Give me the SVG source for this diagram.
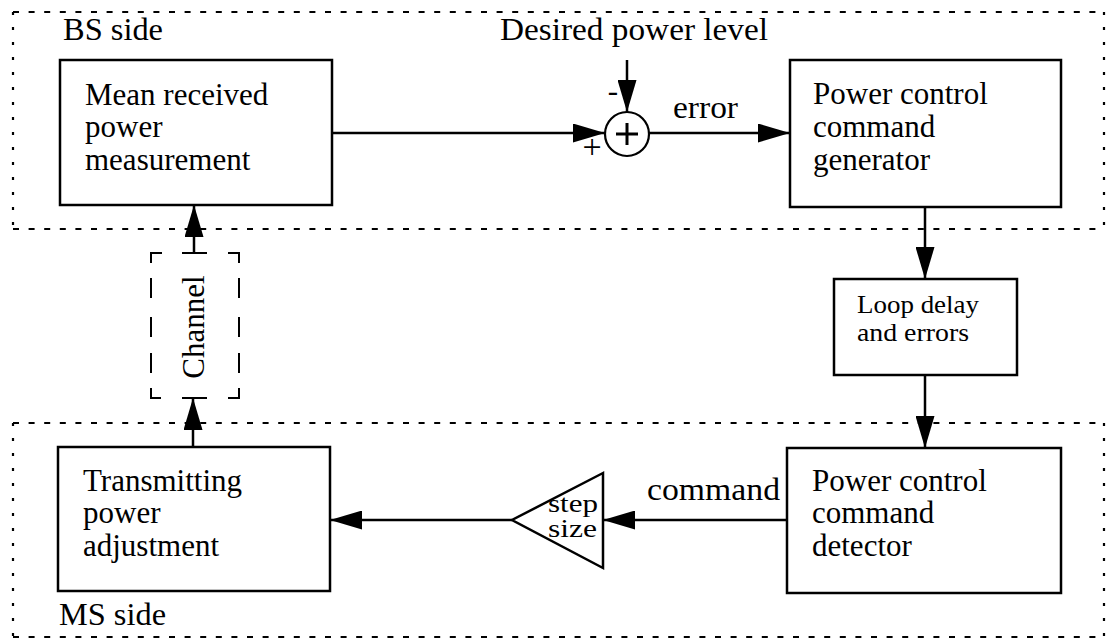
<svg xmlns="http://www.w3.org/2000/svg" width="1107" height="641" viewBox="0 0 1107 641">
<defs>
<style>
.t{font-family:"Liberation Serif","Times New Roman",serif;font-size:31px;fill:#000}
.s{font-family:"Liberation Serif","Times New Roman",serif;font-size:25px;fill:#000}
.box{fill:none;stroke:#000;stroke-width:2.5}
.ln{fill:none;stroke:#000;stroke-width:2.5}
.dh{fill:none;stroke:#000;stroke-width:2.2;stroke-dasharray:6 9.6}
.dv{fill:none;stroke:#000;stroke-width:2.2;stroke-dasharray:3 12}
.ch{fill:none;stroke:#000;stroke-width:2}
</style>
<marker id="ah" markerUnits="userSpaceOnUse" viewBox="0 0 32 19" refX="32" refY="9.5" markerWidth="32" markerHeight="19" orient="auto">
<path d="M0,0 L32,9.5 L0,19 z" fill="#000"/>
</marker>
</defs>
<rect width="1107" height="641" fill="#fff"/>

<g id="bs-region">
<line class="dh" x1="13" y1="12" x2="1104" y2="12"/>
<line class="dh" x1="13" y1="229" x2="1104" y2="229"/>
<line class="dv" x1="13" y1="12" x2="13" y2="229"/>
<line class="dv" x1="1104" y1="12" x2="1104" y2="229"/>
<text class="t" x="63" y="40" textLength="100" lengthAdjust="spacingAndGlyphs">BS side</text>
</g>

<g id="ms-region">
<line class="dh" x1="13" y1="423" x2="1104" y2="423"/>
<line class="dh" x1="13" y1="637" x2="1104" y2="637"/>
<line class="dv" x1="13" y1="423" x2="13" y2="637"/>
<line class="dv" x1="1104" y1="423" x2="1104" y2="637"/>
<text class="t" x="59" y="625" textLength="107" lengthAdjust="spacingAndGlyphs">MS side</text>
</g>

<g id="desired-label">
<text class="t" x="500" y="40" textLength="268" lengthAdjust="spacingAndGlyphs">Desired power level</text>
</g>

<g id="mean-received">
<rect class="box" x="60" y="60" width="272" height="145"/>
<text class="t" x="85" y="105">Mean received<tspan x="85" y="137">power</tspan><tspan x="85" y="170">measurement</tspan></text>
</g>

<g id="summer">
<circle cx="627" cy="134" r="22" fill="none" stroke="#000" stroke-width="2.2"/>
<line x1="616" y1="134" x2="638" y2="134" stroke="#000" stroke-width="3"/>
<line x1="627" y1="123" x2="627" y2="145" stroke="#000" stroke-width="3"/>
<text class="t" x="613" y="101" text-anchor="middle">-</text>
<text x="592" y="158" text-anchor="middle" style="font-family:'Liberation Serif',serif;font-size:34px">+</text>
</g>

<g id="pc-generator">
<rect class="box" x="790" y="60" width="271" height="147"/>
<text class="t" x="813" y="104">Power control<tspan x="813" y="137">command</tspan><tspan x="813" y="170">generator</tspan></text>
</g>

<g id="loop-delay">
<rect class="box" x="834" y="279" width="183" height="96"/>
<text class="s" x="857" y="313" textLength="122" lengthAdjust="spacingAndGlyphs">Loop delay</text>
<text class="s" x="857" y="341" textLength="112" lengthAdjust="spacingAndGlyphs">and errors</text>
</g>

<g id="channel">
<path class="ch" d="M162,253 H151 V263 M151,278 V298 M151,317 V337 M151,353 V373 M151,388 V398 H161"/>
<path class="ch" d="M228,253 H239 V263 M239,278 V298 M239,317 V337 M239,353 V373 M239,388 V398 H228"/>
<path class="ch" d="M182,253 H207 M182,398 H207"/>
<text class="t" transform="translate(204,327) rotate(-90)" text-anchor="middle">Channel</text>
</g>

<g id="pc-detector">
<rect class="box" x="787" y="448" width="274" height="145"/>
<text class="t" x="812" y="491">Power control<tspan x="812" y="523">command</tspan><tspan x="812" y="556">detector</tspan></text>
</g>

<g id="step-size">
<path class="ln" d="M603,473 L512,520 L603,568 Z" stroke-width="2.2"/>
<text x="548" y="512" textLength="50" lengthAdjust="spacingAndGlyphs" style="font-family:'Liberation Serif',serif;font-size:25px">step</text>
<text x="548" y="537" textLength="49" lengthAdjust="spacingAndGlyphs" style="font-family:'Liberation Serif',serif;font-size:25px">size</text>
</g>

<g id="tx-adjust">
<rect class="box" x="58" y="447" width="272" height="144"/>
<text class="t" x="83" y="491">Transmitting<tspan x="83" y="523">power</tspan><tspan x="83" y="556">adjustment</tspan></text>
</g>

<g id="connectors">
<line class="ln" x1="332" y1="133" x2="605" y2="133" marker-end="url(#ah)"/>
<line class="ln" x1="627" y1="60" x2="627" y2="112" marker-end="url(#ah)"/>
<line class="ln" x1="649" y1="133" x2="790" y2="133" marker-end="url(#ah)"/>
<text class="t" x="673" y="118" textLength="65" lengthAdjust="spacingAndGlyphs">error</text>
<line class="ln" x1="925" y1="207" x2="925" y2="279" marker-end="url(#ah)"/>
<line class="ln" x1="925" y1="375" x2="925" y2="448" marker-end="url(#ah)"/>
<line class="ln" x1="787" y1="520" x2="603" y2="520" marker-end="url(#ah)"/>
<text x="647" y="500" textLength="133" lengthAdjust="spacingAndGlyphs" style="font-family:'Liberation Serif',serif;font-size:32px">command</text>
<line class="ln" x1="512" y1="520" x2="330" y2="520" marker-end="url(#ah)"/>
<line class="ln" x1="193" y1="447" x2="193" y2="398" marker-end="url(#ah)"/>
<line class="ln" x1="194" y1="253" x2="194" y2="205" marker-end="url(#ah)"/>
</g>
</svg>
